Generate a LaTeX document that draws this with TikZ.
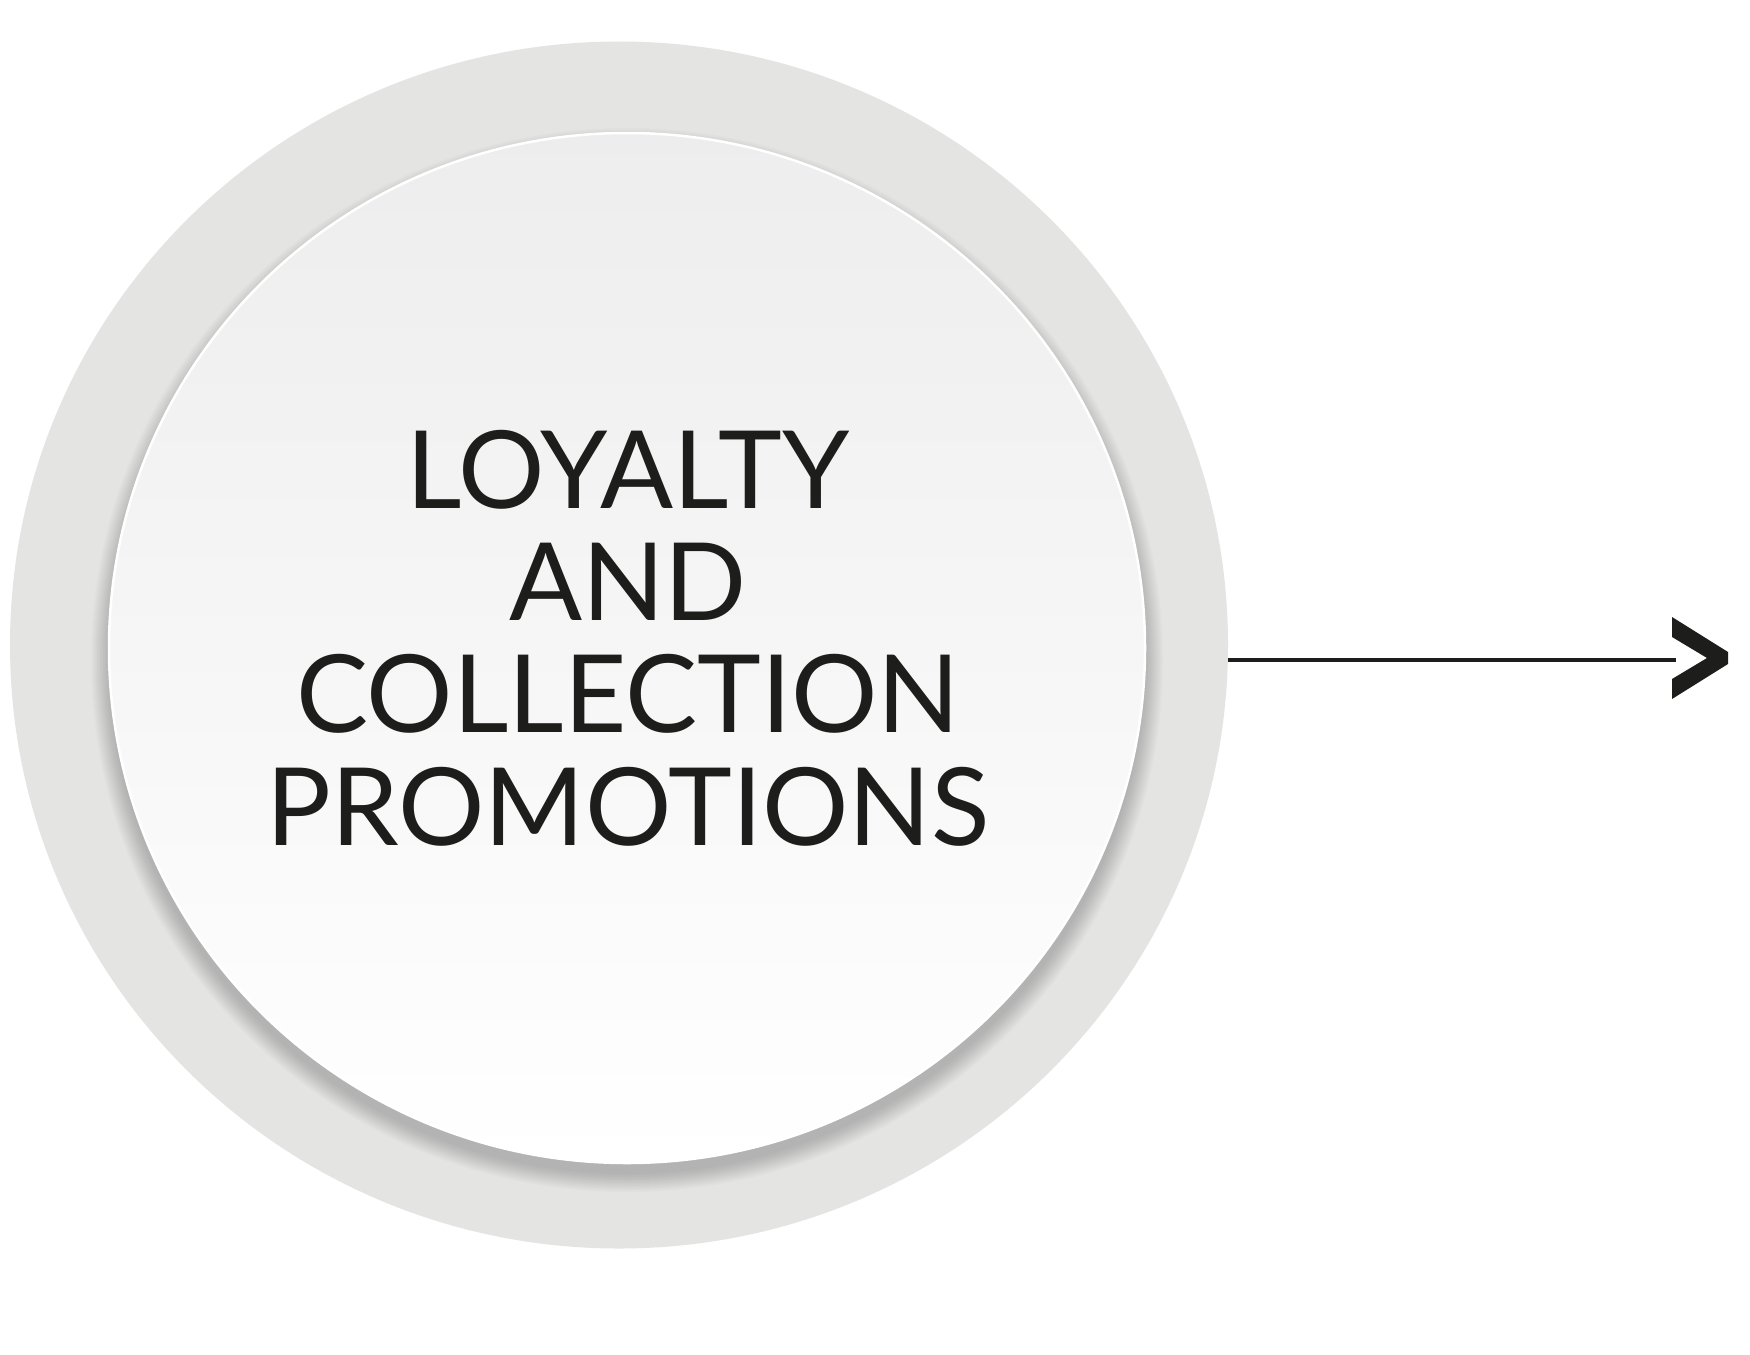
\documentclass[tikz,border=0pt]{standalone}
\usepackage{fontspec}
\setmainfont{Lato}
\usetikzlibrary{shapes.geometric}
\definecolor{ringgray}{HTML}{E4E4E3}
\definecolor{inktone}{HTML}{1D1D1B}
\tikzset{
  ring/.style={ellipse, fill=ringgray, inner sep=0pt, minimum width=1218pt, minimum height=1207pt},
  dish/.style={ellipse, inner sep=0pt, minimum width=1036pt, minimum height=1030pt, draw=white, line width=2.5pt, top color=black!7, bottom color=white},
  label/.style={align=center, inner sep=0pt, text=inktone, font=\fontsize{108}{112.3}\selectfont},
  link/.style={draw=inktone, line width=3.5pt},
  chevron/.style={fill=inktone}
}
\begin{document}
\begin{tikzpicture}[x=1pt,y=-1pt]
\useasboundingbox (0,0) rectangle (1750,1354);
\fill[white] (0,0) rectangle (1750,1354);
\node[ring] (outer) at (619,645) {};
\foreach \k in {0,...,12}{
  \fill[black, opacity=0.014] (627,660) ellipse ({518+\k*1.5} and {514+\k*1.5});
}
\node[dish] (inner) at (627,648) {};
\node[label] (txt) at (628,638) {LOYALTY\\AND\\COLLECTION\\PROMOTIONS};
\coordinate (tip) at (1676,660);
\draw[link] (outer.east |- tip) -- (tip);
\fill[chevron] (1672,617) -- (1728,652) -- (1728,664) -- (1672,699) -- (1672,679) -- (1707,658) -- (1672,637) -- cycle;
\end{tikzpicture}
\end{document}
